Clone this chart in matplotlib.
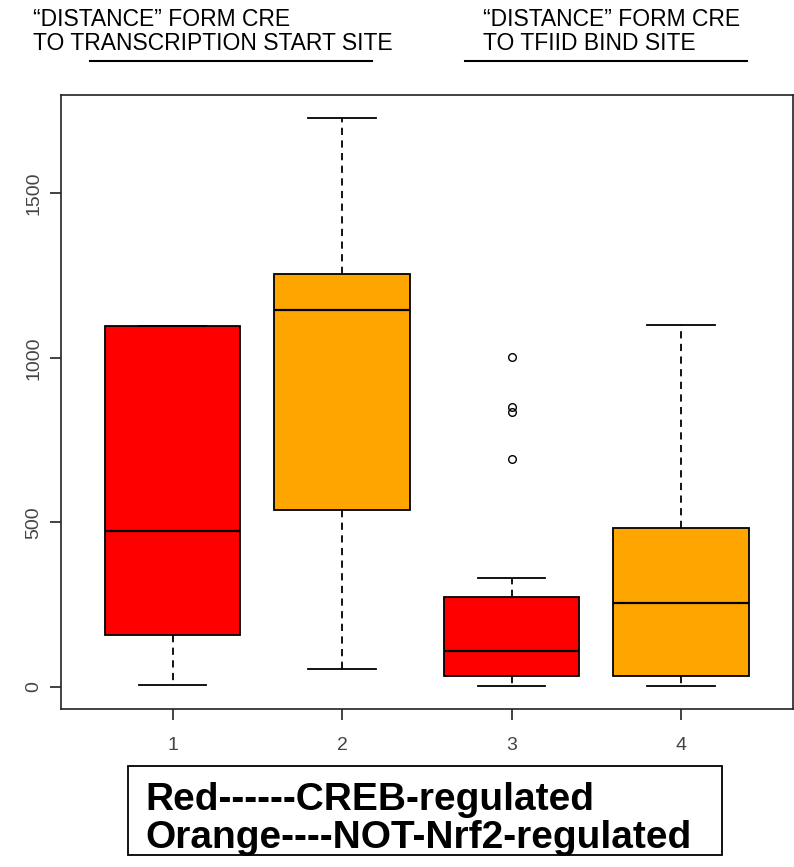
import matplotlib
matplotlib.use("Agg")
import matplotlib.pyplot as plt

plt.rcParams['font.family'] = ['Liberation Sans', 'DejaVu Sans']

# box summary
groups = [1, 2, 3, 4]
whislo = [6, 54, 2, 2]
q1 = [157, 537, 33, 33]
med = [473, 1145, 109, 254]
q3 = [1098, 1254, 274, 482]
whishi = [1098, 1728, 330, 1099]
fliers = [[], [], [1003, 851, 836, 691], []]
colors = ['red', 'orange', 'red', 'orange']

stats = []
for i in range(len(groups)):
    stats.append(dict(whislo=whislo[i], q1=q1[i], med=med[i], q3=q3[i],
                      whishi=whishi[i], fliers=fliers[i]))

fig = plt.figure(figsize=(7.94, 8.67), dpi=100)
ax = fig.add_axes([0.0764, 0.1822, 0.9223, 0.7082])

bp = ax.bxp(stats, positions=groups, widths=0.8, patch_artist=True,
            showfliers=True,
            boxprops=dict(edgecolor='black', linewidth=1.3),
            medianprops=dict(color='black', linewidth=1.6),
            whiskerprops=dict(color='black', linewidth=1.3, linestyle=(0, (4, 3))),
            capprops=dict(color='black', linewidth=1.3),
            flierprops=dict(marker='o', markerfacecolor='none',
                            markeredgecolor='black', markersize=5.5, markeredgewidth=1))
for patch, c in zip(bp['boxes'], colors):
    patch.set_facecolor(c)
for cap in bp['caps']:
    x = cap.get_xdata()
    c = (x[0] + x[1]) / 2
    cap.set_xdata([c - 0.2, c + 0.2])

ax.set_xlim(0.34, 4.66)
ax.set_ylim(-68, 1799)
ax.set_xticks(groups)
ax.set_xticklabels([str(g) for g in groups])
ax.set_yticks([0, 500, 1000, 1500])
ax.set_yticklabels(['0', '500', '1000', '1500'], rotation=90, va='center')
ax.tick_params(axis='both', labelsize=14, length=8, width=1.2,
               colors='#222222', labelcolor='#444444')
ax.tick_params(axis='x', pad=12)
ax.tick_params(axis='y', pad=5)
for s in ax.spines.values():
    s.set_linewidth(1.2)
    s.set_color('#222222')

# headings above the plot
hs = 16.5
fig.text(33 / 794, 1 - 20 / 867, '\u201cDISTANCE\u201d FORM CRE', fontsize=hs, va='center')
fig.text(33 / 794, 1 - 44 / 867, 'TO TRANSCRIPTION START SITE', fontsize=hs, va='center')
fig.text(483 / 794, 1 - 20 / 867, '\u201cDISTANCE\u201d FORM CRE', fontsize=hs, va='center')
fig.text(483 / 794, 1 - 44 / 867, 'TO TFIID BIND SITE', fontsize=hs, va='center')
fig.add_artist(plt.Line2D([90 / 794, 372 / 794], [1 - 61 / 867] * 2, color='black', lw=1.5))
fig.add_artist(plt.Line2D([465 / 794, 747 / 794], [1 - 61 / 867] * 2, color='black', lw=1.5))

# legend box
fig.add_artist(plt.Rectangle((128 / 794, 1 - 855 / 867), 594 / 794, 89 / 867,
                             fill=False, edgecolor='black', lw=1.3))
fig.text(145 / 794, 1 - 800 / 867, 'Red------CREB-regulated', fontsize=28,
         fontweight='bold', va='center')
fig.text(145 / 794, 1 - 838 / 867, 'Orange----NOT-Nrf2-regulated', fontsize=28,
         fontweight='bold', va='center')

fig.savefig('out.png', dpi=100)
